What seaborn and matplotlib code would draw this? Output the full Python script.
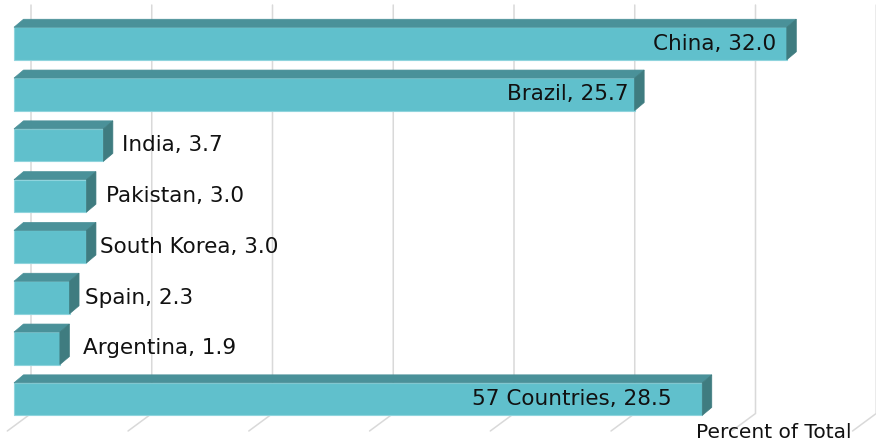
import numpy as np
import pandas as pd
import matplotlib
matplotlib.use("Agg")
import matplotlib.pyplot as plt
import seaborn as sns
from matplotlib.patches import Polygon
from matplotlib.lines import Line2D
from matplotlib.transforms import IdentityTransform, offset_copy

# ---- data ----
countries = ["China", "Brazil", "India", "Pakistan", "South Korea", "Spain", "Argentina", "57 Countries"]
shares = [32.0, 25.7, 3.7, 3.0, 3.0, 2.3, 1.9, 28.5]
inside_label = [True, True, False, False, False, False, False, True]
grid_ticks = [0, 5, 10, 15, 20, 25, 30, 35]
axis_title = "Percent of Total"

# ---- layout / style ----
LABEL_PAD = [11, 6, 9, 10, 4, 6, 14, 31]   # pixel gap between bar end and label
FRONT = "#60c0cc"
TOP = "#4a9199"
SIDE = "#3f7c80"
EDGE = "#8fd4dd"
GRID = "#d9d9d9"

W, H, DPI = 876, 442, 100
sns.set_theme(style="white")
plt.rcParams["font.family"] = ["DejaVu Sans"]

fig = plt.figure(figsize=(W / DPI, H / DPI), dpi=DPI)
ax = fig.add_axes([0, 0, 1, 1])

df = pd.DataFrame({"country": countries, "share": shares})
sns.barplot(data=df, x="share", y="country", orient="h", color=FRONT,
            width=0.64, saturation=1, edgecolor=EDGE, linewidth=0.8,
            ax=ax, zorder=3)

PPU = 24.15
X0 = 14
ax.set_xlim(-X0 / PPU, (W - X0) / PPU)
C0, STEP = 43.5, 50.8
ax.set_ylim((H - C0) / STEP, -C0 / STEP)
ax.set_autoscale_on(False)
ax.set_axis_off()

fig.canvas.draw()
ident = IdentityTransform()

def disp(x, y):
    return ax.transData.transform((x, y))

# ---- perspective grid ----
BACK_DX = 17
for v in grid_ticks:
    bx = disp(v, 0)[0] + BACK_DX
    pts = [(bx, H - 5), (bx, H - 413.5), (bx - 23.7, H - 431)]
    ax.add_line(Line2D([p[0] for p in pts], [p[1] for p in pts], color=GRID,
                       lw=1.1, transform=ident, zorder=1, solid_joinstyle="miter"))

# ---- 3D faces for bars ----
DX, DY = 9.5, 8
for p, lab, val, inside, pad in zip(ax.patches, countries, shares, inside_label, LABEL_PAD):
    x0, y0, w, h = p.get_x(), p.get_y(), p.get_width(), p.get_height()
    (lx, ya) = disp(x0, y0)
    (rx, yb) = disp(x0 + w, y0 + h)
    T, B = max(ya, yb), min(ya, yb)
    top = [(lx, T), (rx, T), (rx + DX, T + DY), (lx + DX, T + DY)]
    side = [(rx, B), (rx, T), (rx + DX, T + DY), (rx + DX, B + DY)]
    ax.add_patch(Polygon(top, closed=True, transform=ident, facecolor=TOP,
                         edgecolor=TOP, lw=0.5, zorder=3))
    ax.add_patch(Polygon(side, closed=True, transform=ident, facecolor=SIDE,
                         edgecolor=SIDE, lw=0.5, zorder=3))
    yc = y0 + h / 2
    text = f"{lab}, {val:.1f}"
    if inside:
        tr = offset_copy(ax.transData, fig=fig, x=-pad, y=0, units="dots")
        ax.text(x0 + w, yc, text, transform=tr, ha="right", va="center",
                fontsize=15.5, color="#111111", zorder=5)
    else:
        tr = offset_copy(ax.transData, fig=fig, x=DX + pad, y=0, units="dots")
        ax.text(x0 + w, yc, text, transform=tr, ha="left", va="center",
                fontsize=15.5, color="#111111", zorder=5)

ax.text(852, 4, axis_title, transform=ident, ha="right", va="baseline",
        fontsize=14.5, color="#111111")

fig.savefig("out.png", dpi=DPI, facecolor="white")
